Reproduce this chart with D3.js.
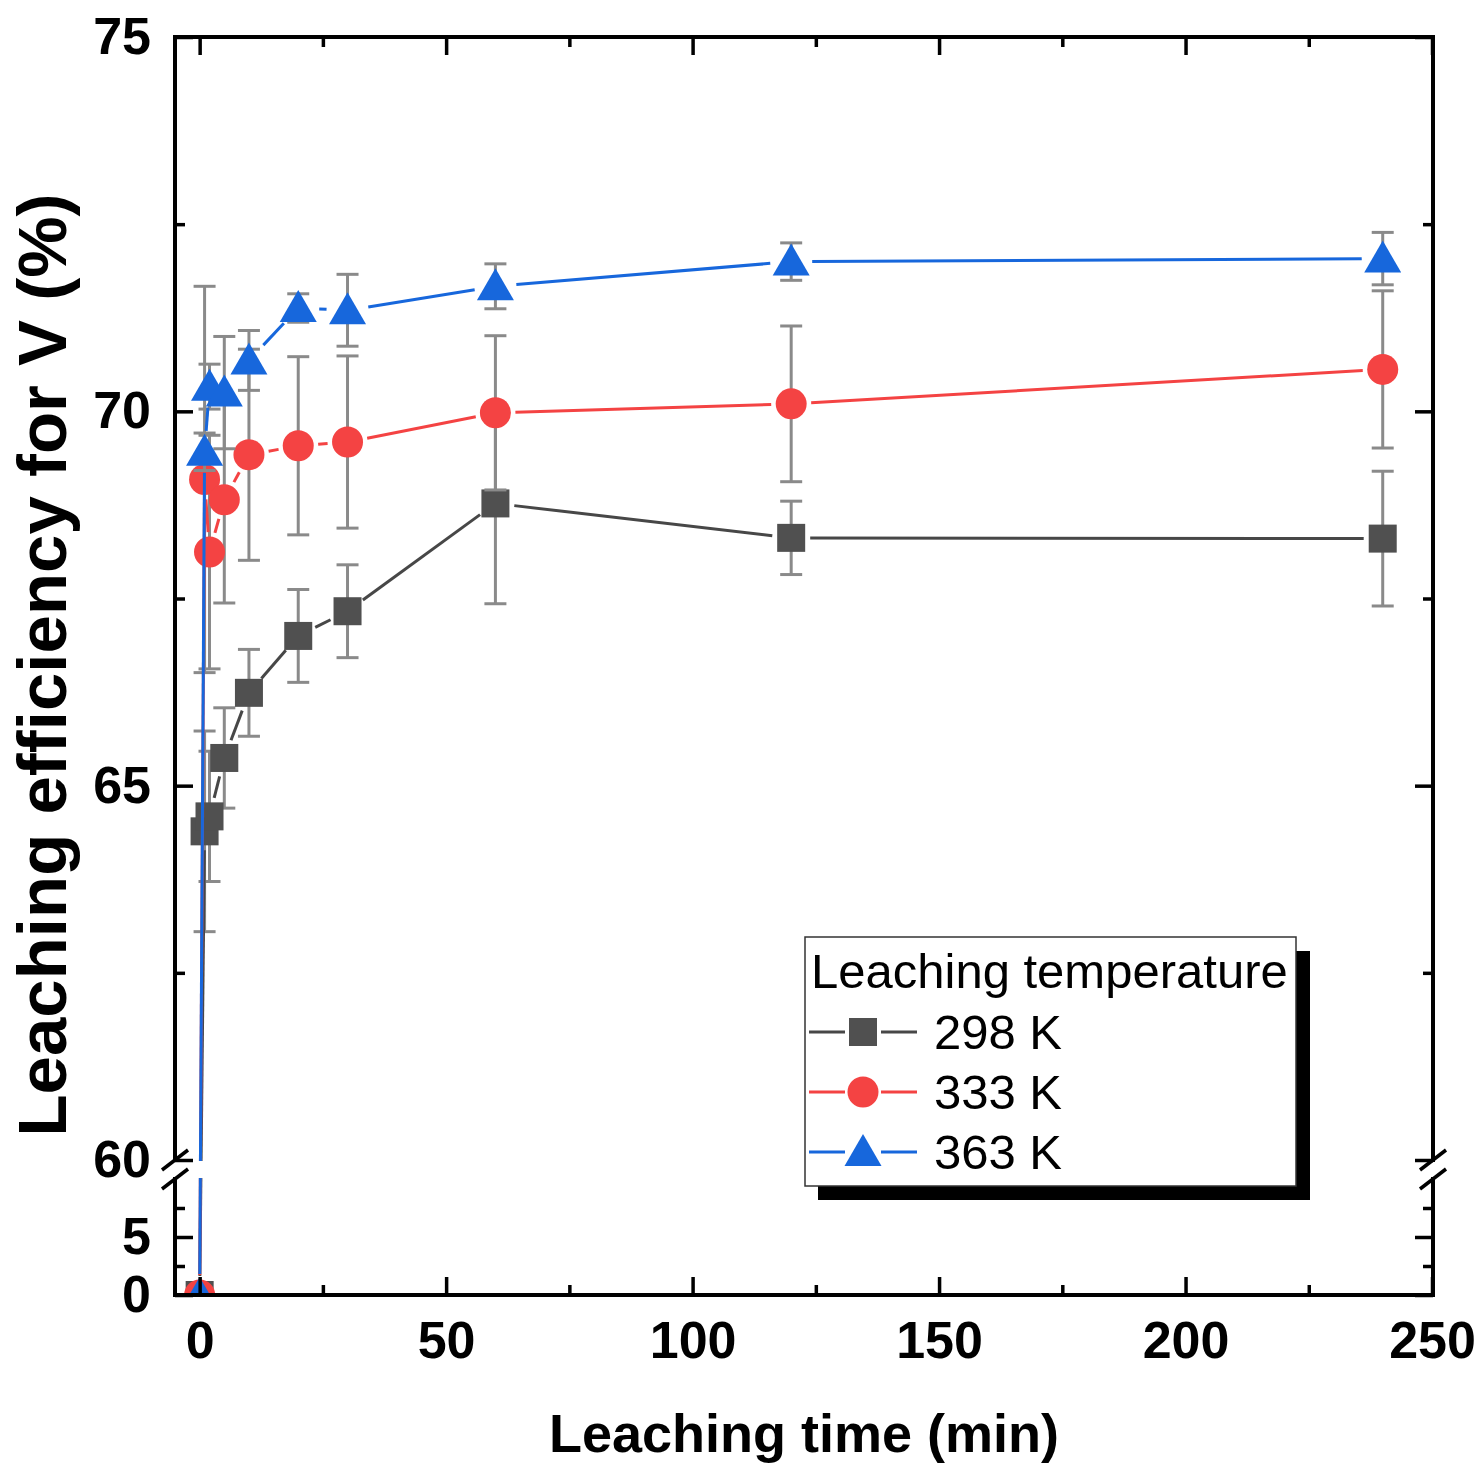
<!DOCTYPE html>
<html>
  <head>
    <meta charset="utf-8">
    <title>Leaching efficiency for V</title>
    <script src="https://d3js.org/d3.v7.min.js"></script>
    <style>
      body { margin: 0; background: #fff; }
      svg text { font-family: "Liberation Sans", Arial, sans-serif; }
    </style>
  </head>
  <body>
    <div id="chart"></div>
    <script>
      // Data
      const times = [0, 1, 2, 5, 10, 20, 30, 60, 120, 240];
      const eff298 = [0, 64.39, 64.59, 65.37, 66.24, 67.00, 67.33, 68.77, 68.31, 68.30];
      const err298 = [0, 1.34, 0.87, 0.67, 0.58, 0.62, 0.62, 1.34, 0.49, 0.90];
      const eff333 = [0, 69.09, 68.12, 68.82, 69.42, 69.54, 69.59, 69.98, 70.10, 70.56];
      const err333 = [0, 2.58, 1.56, 1.38, 1.41, 1.19, 1.15, 1.03, 1.04, 1.05];
      const eff363 = [0, 69.46, 70.33, 70.25, 70.68, 71.38, 71.35, 71.67, 72.00, 72.04];
      const err363 = [0, 0.25, 0.30, 0.75, 0.40, 0.19, 0.48, 0.30, 0.25, 0.35];
      const seriesNames = ["298 K", "333 K", "363 K"];
      const xTicks = [0, 50, 100, 150, 200, 250];
      const xMinor = [25, 75, 125, 175, 225];
      const yTicksHi = [60, 65, 70, 75];
      const yMinorHi = [62.5, 67.5, 72.5];
      const yTicksLo = [0, 5];
      const yMinorLo = [2.5, 7.5];

      const W = 1480, H = 1465;
      const pL = 175, pR = 1433, pT = 37, pB = 1295;
      const breakHi = 1160, breakLo = 1179;

      const x = d3.scaleLinear().domain([-5, 250.2]).range([pL, pR]);
      const yHi = d3.scaleLinear().domain([60, 75]).range([breakHi, pT]);
      const yLo = d3.scaleLinear().domain([0, 10]).range([pB, breakLo]);
      const yPos = v => v >= 60 ? yHi(v) : yLo(v);

      const svg = d3.select("#chart").append("svg")
        .attr("width", W).attr("height", H);

      const series = [
        {name: seriesNames[0], vals: eff298, errs: err298, color: "#505050", line: "#474747", shape: "square", gap: 19},
        {name: seriesNames[1], vals: eff333, errs: err333, color: "#f44343", line: "#f44343", shape: "circle", gap: 20},
        {name: seriesNames[2], vals: eff363, errs: err363, color: "#1767dc", line: "#1767dc", shape: "triangle", gap: 21}
      ];

      function marker(g, shape, color) {
        if (shape === "square") {
          g.append("rect").attr("x", -14).attr("y", -14).attr("width", 28).attr("height", 28)
            .attr("fill", color);
        } else if (shape === "circle") {
          g.append("circle").attr("r", 15.5).attr("fill", color);
        } else {
          g.append("path").attr("d", "M0,-18L18.5,14L-18.5,14Z").attr("fill", color);
        }
      }

      svg.append("clipPath").attr("id", "plotclip")
        .append("rect").attr("x", pL).attr("y", pT)
        .attr("width", pR - pL).attr("height", pB - pT);

      const plot = svg.append("g").attr("clip-path", "url(#plotclip)");

      series.forEach(s => {
        const pts = times.map((t, i) => ({t, v: s.vals[i], e: s.errs[i]}));
        const g = plot.append("g");

        // error bars
        pts.filter(d => d.e > 0).forEach(d => {
          const cx = x(d.t), y1 = yPos(d.v + d.e), y2 = yPos(d.v - d.e);
          g.append("line").attr("x1", cx).attr("x2", cx).attr("y1", y1).attr("y2", y2)
            .attr("stroke", "#8a8a8a").attr("stroke-width", 3);
          [y1, y2].forEach(yy => g.append("line")
            .attr("x1", cx - 11).attr("x2", cx + 11).attr("y1", yy).attr("y2", yy)
            .attr("stroke", "#8a8a8a").attr("stroke-width", 3));
        });

        // connecting lines with gaps around the markers
        for (let i = 0; i < pts.length - 1; i++) {
          const ax = x(pts[i].t), ay = yPos(pts[i].v);
          const bx = x(pts[i + 1].t), by = yPos(pts[i + 1].v);
          const len = Math.hypot(bx - ax, by - ay);
          if (len <= 2 * s.gap) continue;
          const ux = (bx - ax) / len, uy = (by - ay) / len;
          g.append("line")
            .attr("x1", ax + ux * s.gap).attr("y1", ay + uy * s.gap)
            .attr("x2", bx - ux * s.gap).attr("y2", by - uy * s.gap)
            .attr("stroke", s.line).attr("stroke-width", 3);
        }

        pts.forEach(d => {
          const m = g.append("g").attr("transform", `translate(${x(d.t)},${yPos(d.v)})`);
          marker(m, s.shape, s.color);
        });
      });

      // blank the axis break across the plot
      svg.append("rect").attr("x", pL + 3).attr("y", breakHi + 1)
        .attr("width", pR - pL - 6).attr("height", breakLo - breakHi - 2)
        .attr("fill", "#fff");

      // axes
      function styleAxis(g) {
        g.select(".domain").remove();
        g.selectAll(".tick line").attr("stroke", "#000").attr("stroke-width", 3.5);
        g.selectAll(".tick text").attr("fill", "#000")
          .style("font-size", "52px").style("font-weight", "bold");
      }

      svg.append("g").attr("transform", `translate(0,${pB})`)
        .call(d3.axisBottom(x).tickValues(xTicks).tickSize(-18).tickPadding(26).tickFormat(d3.format("d")))
        .call(styleAxis);
      svg.append("g").attr("transform", `translate(0,${pB})`)
        .call(d3.axisBottom(x).tickValues(xMinor).tickSize(-10).tickFormat(""))
        .call(styleAxis);
      svg.append("g").attr("transform", `translate(0,${pT})`)
        .call(d3.axisTop(x).tickValues(xTicks).tickSize(-18).tickFormat(""))
        .call(styleAxis);
      svg.append("g").attr("transform", `translate(0,${pT})`)
        .call(d3.axisTop(x).tickValues(xMinor).tickSize(-10).tickFormat(""))
        .call(styleAxis);

      [[yHi, yTicksHi, yMinorHi], [yLo, yTicksLo, yMinorLo]].forEach(([sc, maj, mi]) => {
        svg.append("g").attr("transform", `translate(${pL},0)`)
          .call(d3.axisLeft(sc).tickValues(maj).tickSize(-18).tickPadding(24).tickFormat(d3.format("d")))
          .call(styleAxis);
        svg.append("g").attr("transform", `translate(${pL},0)`)
          .call(d3.axisLeft(sc).tickValues(mi).tickSize(-10).tickFormat(""))
          .call(styleAxis);
        svg.append("g").attr("transform", `translate(${pR},0)`)
          .call(d3.axisRight(sc).tickValues(maj).tickSize(-18).tickFormat(""))
          .call(styleAxis);
        svg.append("g").attr("transform", `translate(${pR},0)`)
          .call(d3.axisRight(sc).tickValues(mi).tickSize(-10).tickFormat(""))
          .call(styleAxis);
      });

      // frame with the break
      const frame = svg.append("g").attr("stroke", "#000").attr("stroke-width", 4)
        .attr("stroke-linecap", "square").attr("fill", "none");
      frame.append("line").attr("x1", pL).attr("x2", pR).attr("y1", pT).attr("y2", pT);
      frame.append("line").attr("x1", pL).attr("x2", pR).attr("y1", pB).attr("y2", pB);
      [pL, pR].forEach(xx => {
        frame.append("line").attr("x1", xx).attr("x2", xx).attr("y1", pT).attr("y2", breakHi);
        frame.append("line").attr("x1", xx).attr("x2", xx).attr("y1", breakLo).attr("y2", pB);
        [breakHi, breakLo].forEach(yy => frame.append("line")
          .attr("stroke-linecap", "butt").attr("stroke-width", 3.5)
          .attr("x1", xx - 13).attr("y1", yy + 10).attr("x2", xx + 13).attr("y2", yy - 10));
      });

      // axis titles
      svg.append("text").attr("x", 804).attr("y", 1452).attr("text-anchor", "middle")
        .style("font-size", "54px").style("font-weight", "bold")
        .text("Leaching time (min)");
      svg.append("text").attr("transform", "translate(66,665) rotate(-90)")
        .attr("text-anchor", "middle")
        .style("font-size", "69px").style("font-weight", "bold")
        .text("Leaching efficiency for V (%)");

      // legend
      const lg = svg.append("g");
      lg.append("rect").attr("x", 818).attr("y", 951).attr("width", 492).attr("height", 249).attr("fill", "#000");
      lg.append("rect").attr("x", 805).attr("y", 937).attr("width", 491).attr("height", 249)
        .attr("fill", "#fff").attr("stroke", "#333").attr("stroke-width", 1.5);
      lg.append("text").attr("x", 811).attr("y", 988).style("font-size", "49px")
        .text("Leaching temperature");
      series.forEach((s, i) => {
        const cy = 1032 + i * 60;
        lg.append("line").attr("x1", 809).attr("x2", 845).attr("y1", cy).attr("y2", cy)
          .attr("stroke", s.line).attr("stroke-width", 3);
        lg.append("line").attr("x1", 881).attr("x2", 917).attr("y1", cy).attr("y2", cy)
          .attr("stroke", s.line).attr("stroke-width", 3);
        marker(lg.append("g").attr("transform", `translate(863,${cy})`), s.shape, s.color);
        lg.append("text").attr("x", 934).attr("y", cy + 17).style("font-size", "49px").text(s.name);
      });
    </script>
  </body>
</html>
